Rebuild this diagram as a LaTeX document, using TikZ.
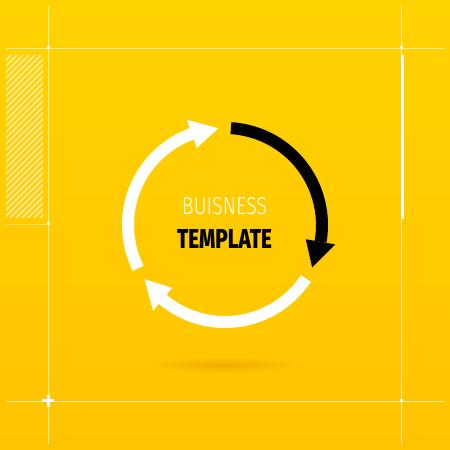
\documentclass[tikz,border=0pt]{standalone}
\usepackage{graphicx}
\usepackage{fontspec}
\usetikzlibrary{fadings}
\newfontfamily\thinf{Fira Sans Light}
\newfontfamily\boldf{Fira Sans ExtraBold}
\definecolor{bgtop}{RGB}{255,211,0}
\definecolor{bgbot}{RGB}{255,196,0}
\definecolor{shadowc}{RGB}{220,145,0}
\tikzfading[name=softfade, inner color=transparent!55, outer color=transparent!100]
\tikzset{
  frameline/.style={white, opacity=0.6, line width=0.8pt},
  dotsq/.style={fill=white},
  ring/.style={line width=12pt},
  txt/.style={inner sep=0pt, outer sep=0pt}
}
\newcommand{\cyclearrow}[4]{%
  \draw[ring, #4] (#1:97) arc[start angle=#1, end angle=#2, radius=97];
  \fill[#4] (#2:112) -- (#3:97) -- (#2:82) -- cycle;
}
\begin{document}
\begin{tikzpicture}[x=1pt,y=1pt]
\shade[top color=bgtop, bottom color=bgbot] (0,0) rectangle (450,450);
\useasboundingbox (0,0) rectangle (450,450);
% hatched box
\begin{scope}
  \clip (6,232) rectangle (43,395);
  \foreach \i in {-170,-164,...,50}
    \draw[white, opacity=0.55, line width=1.8pt] (\i,232) -- (\i+163,395);
\end{scope}
% frame lines
\draw[frameline] (6,402) -- (444,402);
\draw[frameline] (6,49) -- (444,49);
\draw[frameline] (48,6) -- (48,444);
\draw[frameline] (401,6) -- (401,444);
\draw[frameline, opacity=0.4] (6,226) -- (48,226);
% dots
\fill[dotsq] (46.5,400.5) rectangle (49.5,403.5);
\fill[dotsq] (399.5,400.5) rectangle (402.5,403.5);
\fill[dotsq] (399.5,47.5) rectangle (402.5,50.5);
\fill[dotsq] (46.5,224.5) rectangle (49.5,227.5);
% plus
\fill[white] (42,47.5) rectangle (54,50.5);
\fill[white] (46.5,43) rectangle (49.5,55);
% right bar
\fill[white] (401,231) rectangle (404,395);
% shadow
\fill[shadowc, path fading=softfade] (225,85) ellipse (80 and 8);
% arrows
\begin{scope}[shift={(225,225)}]
  \cyclearrow{86.5}{-10}{-26}{black}
  \cyclearrow{206.5}{110}{94}{white}
  \cyclearrow{326.5}{230}{214}{white}
\end{scope}
% text
\node[txt, white] (t1) at (224.5,243.5) {\resizebox{85pt}{17pt}{\thinf BUISNESS}};
\node[txt, black] (t2) at (224.5,210.5) {\resizebox{95pt}{19pt}{\boldf TEMPLATE}};
\end{tikzpicture}
\end{document}
